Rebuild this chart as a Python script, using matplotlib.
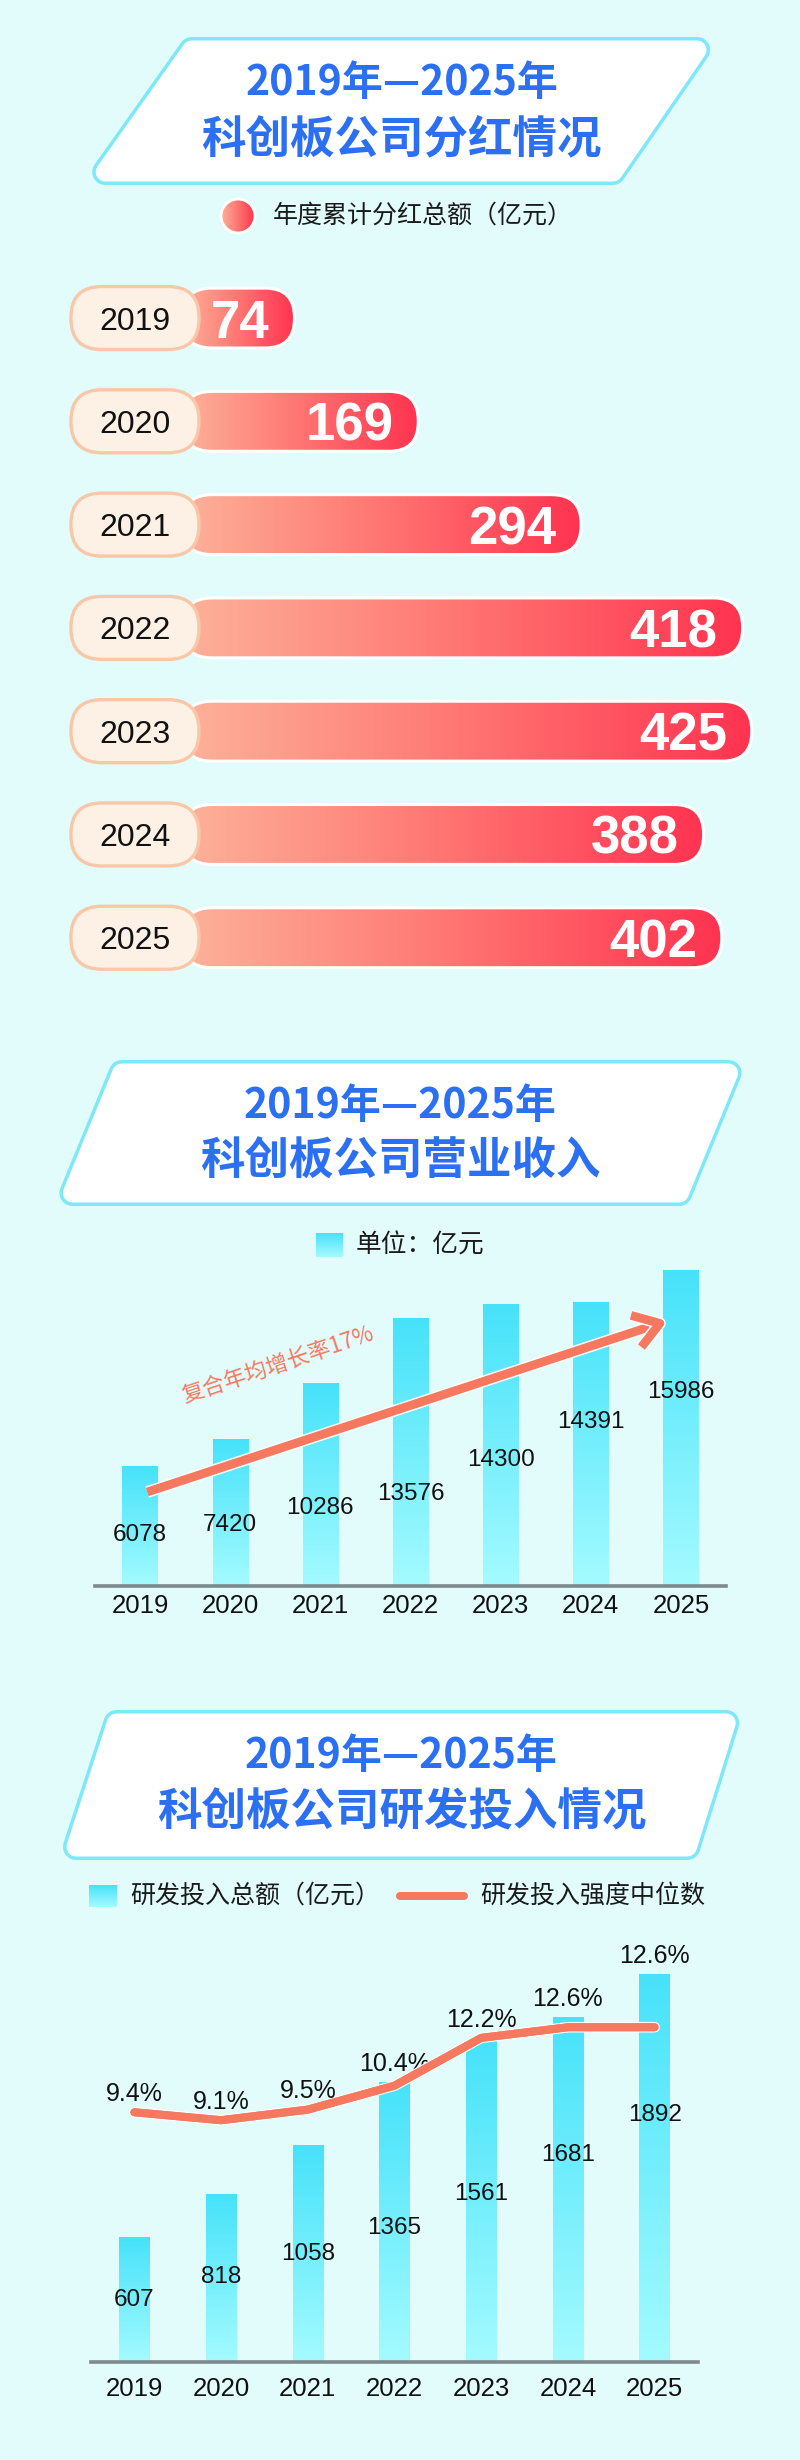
import numpy as np
import matplotlib.pyplot as plt
import matplotlib.patheffects as pe
from matplotlib.patches import FancyBboxPatch, Polygon, Circle
from matplotlib.colors import LinearSegmentedColormap

# ── data ────────────────────────────────────────────────────────────────
years = ["2019", "2020", "2021", "2022", "2023", "2024", "2025"]
dividends = [74, 169, 294, 418, 425, 388, 402]                 # 亿元
revenue = [6078, 7420, 10286, 13576, 14300, 14391, 15986]      # 亿元
rd_spend = [607, 818, 1058, 1365, 1561, 1681, 1892]            # 亿元
rd_intensity = [9.4, 9.1, 9.5, 10.4, 12.2, 12.6, 12.6]         # %

titles = [
    ("2019年—2025年", "科创板公司分红情况"),
    ("2019年—2025年", "科创板公司营业收入"),
    ("2019年—2025年", "科创板公司研发投入情况"),
]
legend_div = "年度累计分红总额（亿元）"
legend_rev = "单位：亿元"
legend_rd = ["研发投入总额（亿元）", "研发投入强度中位数"]
cagr_label = "复合年均增长率17%"

# label heights inside the bars (value units), hand placed like the original
rev_label_y = [2740, 3200, 4110, 4770, 6500, 8430, 9950]
rd_label_y = [317, 429, 537, 668, 834, 1020, 1215]

# ── style ───────────────────────────────────────────────────────────────
W, H = 800, 2460
BG = "#e2fcfc"
BLUE = "#2b6ff2"
BORDER = "#7ee8f8"
SALMON = "#f5785f"
CJK = ["Noto Sans CJK SC", "DejaVu Sans"]
NUM = ["Liberation Sans", "DejaVu Sans"]
PT = 72 / 100  # px -> pt at dpi 100

red_cmap = LinearSegmentedColormap.from_list("red", ["#fdb29a", "#ff7572", "#ff3350"])
cyan_cmap = LinearSegmentedColormap.from_list("cyan", ["#a4fbff", "#46e2fa"])
grad_h = np.linspace(0, 1, 256).reshape(1, -1)
grad_v = np.linspace(1, 0, 256).reshape(-1, 1)

fig = plt.figure(figsize=(W / 100, H / 100), dpi=100, facecolor=BG)


def px_axes(x0, y0, x1, y1):
    ax = fig.add_axes([x0 / W, 1 - y1 / H, (x1 - x0) / W, (y1 - y0) / H])
    ax.set_facecolor("none")
    return ax


deco = px_axes(0, 0, W, H)
deco.set_xlim(0, W)
deco.set_ylim(H, 0)
deco.axis("off")


def title_box(top, bottom, tl, tr, bl, br, lines, r=13, bw=3.5):
    h = bottom - top
    off = r * np.hypot(bl - tl, h) / h
    ya, yb = top + r, bottom - r
    xl = lambda y: tl + (bl - tl) * (y - top) / h + off
    xr = lambda y: tr + (br - tr) * (y - top) / h - off
    pts = [(xl(ya), ya), (xr(ya), ya), (xr(yb), yb), (xl(yb), yb)]
    deco.add_patch(Polygon(pts, closed=True, fc=BORDER, ec=BORDER,
                           lw=2 * r * PT, joinstyle="round"))
    deco.add_patch(Polygon(pts, closed=True, fc="white", ec="white",
                           lw=2 * (r - bw) * PT, joinstyle="round"))
    cx = (tl + tr + bl + br) / 4
    deco.text(cx, top + 46, lines[0], ha="center", va="center", color=BLUE,
              fontsize=29.5, fontweight="heavy", family=CJK)
    deco.text(cx, top + 102, lines[1], ha="center", va="center", color=BLUE,
              fontsize=32, fontweight="heavy", family=CJK)


title_box(37, 185, 185, 722, 80, 620, titles[0])
title_box(1060, 1206, 113, 748, 53, 688, titles[1])
title_box(1710, 1860, 107, 744, 58, 697, titles[2])

# ── legends ─────────────────────────────────────────────────────────────
dot = Circle((238, 216), 17, fc="none", ec="white", lw=2, zorder=3)
deco.add_patch(dot)
im = deco.imshow(grad_h, cmap=red_cmap, extent=(221, 255, 233, 199),
                 aspect="auto", zorder=2)
im.set_clip_path(dot)
deco.text(273, 216, legend_div, ha="left", va="center", fontsize=18,
          family=CJK, color="#1a1a1a")

deco.imshow(grad_v, cmap=cyan_cmap, extent=(316, 343, 1257, 1233), aspect="auto")
deco.text(356, 1246, legend_rev, ha="left", va="center", fontsize=18.5,
          family=CJK, color="#1a1a1a")

deco.imshow(grad_v, cmap=cyan_cmap, extent=(89, 117, 1907, 1885), aspect="auto")
deco.text(130, 1896, legend_rd[0], ha="left", va="center", fontsize=18,
          family=CJK, color="#1a1a1a")
deco.plot([400, 464], [1896, 1896], color=SALMON, lw=8 * PT, solid_capstyle="round")
deco.text(480, 1896, legend_rd[1], ha="left", va="center", fontsize=18,
          family=CJK, color="#1a1a1a")
deco.set_xlim(0, W)
deco.set_ylim(H, 0)

# ── chart 1: dividends, rounded horizontal bars ─────────────────────────
ax1 = px_axes(0, 266.4, W, 989.4)
ax1.set_xlim(-152, 462)
ax1.set_ylim(6.5, -0.5)
ax1.axis("off")
px_x = ax1.bbox.width / (462 + 152)
px_y = ax1.bbox.height / 7
m = px_x / px_y
bar_h, bar_x0 = 0.58, -12
pill_cx, pill_w, pill_h = -48.4, 98.3, 0.61

for i, (yr, v) in enumerate(zip(years, dividends)):
    bar = FancyBboxPatch((bar_x0, i - bar_h / 2), v - bar_x0, bar_h,
                         boxstyle=f"round,pad=0,rounding_size={0.49 * bar_h / m:.3f}",
                         mutation_aspect=m, fc="none", ec="white", lw=2.2, zorder=3)
    ax1.add_patch(bar)
    im = ax1.imshow(grad_h, cmap=red_cmap, extent=(bar_x0, v, i + bar_h / 2, i - bar_h / 2),
                    aspect="auto", zorder=2, interpolation="bilinear")
    im.set_clip_path(bar)
    pill = FancyBboxPatch((pill_cx - pill_w / 2, i - pill_h / 2), pill_w, pill_h,
                          boxstyle=f"round,pad=0,rounding_size={0.49 * pill_h / m:.3f}",
                          mutation_aspect=m, fc="#fdf0e4", ec="#f8c7a7", lw=2.4, zorder=4)
    ax1.add_patch(pill)
    ax1.text(pill_cx, i, yr, ha="center", va="center_baseline", fontsize=23,
             family=NUM, color="#111111", zorder=5)
    ax1.annotate(f"{v}", xy=(v, i), xytext=(-18, 0), textcoords="offset points",
                 ha="right", va="center_baseline", fontsize=38, fontweight="bold",
                 family=NUM, color="white", zorder=5)
ax1.set_xlim(-152, 462)
ax1.set_ylim(6.5, -0.5)

# ── chart 2: revenue columns + CAGR arrow ───────────────────────────────
x = np.arange(len(years))


def column_axes(ax, values, width, ymax, pad):
    ax.set_xlim(-0.5, 6.5)
    ax.set_ylim(0, ymax)
    bars = ax.bar(x, values, width=width, color="none", zorder=2)
    for b in bars:
        ax.imshow(grad_v, cmap=cyan_cmap, aspect="auto", zorder=1,
                  extent=(b.get_x(), b.get_x() + b.get_width(), 0, b.get_height()))
    ax.set_xlim(-0.5, 6.5)
    ax.set_ylim(0, ymax)
    for s in ("top", "left", "right"):
        ax.spines[s].set_visible(False)
    ax.spines["bottom"].set_color("#7d898d")
    ax.spines["bottom"].set_linewidth(2.6)
    ax.spines["bottom"].set_zorder(3)
    ax.set_yticks([])
    ax.set_xticks(x, years)
    ax.tick_params(axis="x", length=0, pad=pad, labelsize=18.5)
    for t in ax.get_xticklabels():
        t.set_fontfamily(NUM)
        t.set_color("#111111")


ax2 = px_axes(95, 1250, 726, 1586)
column_axes(ax2, revenue, 0.39, 17050, 6)
for i, (v, ly) in enumerate(zip(revenue, rev_label_y)):
    ax2.text(i, ly, f"{v}", ha="center", va="center_baseline", fontsize=17.5,
             family=NUM, color="#111111", zorder=4)

ax2.annotate("", xy=(5.85, 13450), xytext=(0.08, 4770),
             arrowprops=dict(arrowstyle="->,head_length=0.6,head_width=0.4",
                             color=SALMON, lw=6.3, shrinkA=0, shrinkB=0,
                             mutation_scale=30, capstyle="butt",
                             path_effects=[pe.withStroke(linewidth=8.5, foreground="white")]),
             zorder=5)
ax2.text(1.53, 11220, cagr_label, ha="center", va="center", rotation=18.5,
         rotation_mode="anchor", fontsize=16, color=SALMON, family=CJK, zorder=5)

# ── chart 3: R&D spend columns + intensity line ─────────────────────────
ax3 = px_axes(91, 1930, 698, 2362)
column_axes(ax3, rd_spend, 0.35, 2107, 11)
for i, (v, ly) in enumerate(zip(rd_spend, rd_label_y)):
    ax3.text(i, ly, f"{v}", ha="center", va="center_baseline", fontsize=17.5,
             family=NUM, color="#111111", zorder=4)

ax3b = ax3.twinx()
ax3b.set_facecolor("none")
ax3b.set_ylim(0, 16.26)
for s in ax3b.spines.values():
    s.set_visible(False)
ax3b.set_yticks([])
ax3b.plot(x, rd_intensity, color=SALMON, lw=5.8, solid_capstyle="round",
          solid_joinstyle="round",
          path_effects=[pe.withStroke(linewidth=7.6, foreground="white"), pe.Normal()])

for i, (v, p) in enumerate(zip(rd_spend, rd_intensity)):
    top_bar = ax3.transData.transform((i, v))[1]
    top_pt = ax3b.transData.transform((i, p))[1]
    target, xy = (ax3, (i, v)) if top_bar > top_pt else (ax3b, (i, p))
    target.annotate(f"{p}%", xy=xy, xytext=(0, 15), textcoords="offset points",
                    ha="center", va="center_baseline", fontsize=18, family=NUM,
                    color="#111111", zorder=6)

fig.savefig("out.png", dpi=100, facecolor=BG)
